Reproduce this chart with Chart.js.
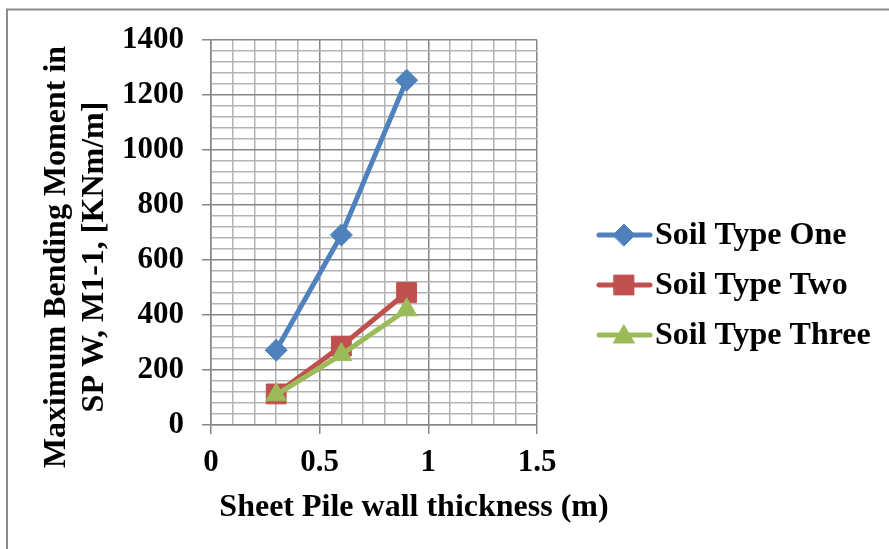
<!DOCTYPE html>
<html>
<head>
<meta charset="utf-8">
<script src="https://cdn.jsdelivr.net/npm/chart.js@4"></script>
<style>
  html, body { margin: 0; padding: 0; background: #fff; }
  #wrap { width: 889px; height: 549px; position: relative; }
</style>
</head>
<body>
<div id="wrap"><canvas id="c" width="889" height="549"></canvas></div>
<script>
// Wall thickness (m) and maximum bending moment M1-1 (kN·m/m) per soil type
const thickness = [0.3, 0.6, 0.9];
const soilTypeOne = [272, 691, 1254];
const soilTypeTwo = [113, 287, 482];
const soilTypeThree = [110, 256, 419];
const seriesNames = ['Soil Type One', 'Soil Type Two', 'Soil Type Three'];
const xTickLabels = ['0', '0.5', '1', '1.5'];
const yTickLabels = ['0', '200', '400', '600', '800', '1000', '1200', '1400'];
const xTitle = 'Sheet Pile wall thickness (m)';
const yTitle = ['Maximum Bending Moment in', 'SP W, M1-1, [KNm/m]'];

const FONT = "'Liberation Serif', 'Times New Roman', serif";
const colors = ['#4F81BD', '#C0504D', '#9BBB59'];
const markers = ['rectRot', 'rect', 'triangle'];
const markerRadius = [11, 14, 12];

const toPoints = ys => thickness.map((x, i) => ({ x, y: ys[i] }));
const values = [soilTypeOne, soilTypeTwo, soilTypeThree];

const MAJOR_GRID = '#868686';
const MINOR_GRID = '#b3b3b3';

const isMajorX = v => Math.abs(v * 2 - Math.round(v * 2)) < 1e-6;
const isMajorY = v => Math.abs(v / 200 - Math.round(v / 200)) < 1e-6;

// Outer frame, axis titles and the right-hand legend
const decorations = {
  id: 'decorations',
  beforeDraw(chart) {
    const ctx = chart.ctx;
    ctx.save();
    ctx.fillStyle = '#fff';
    ctx.fillRect(0, 0, chart.width, chart.height);
    ctx.strokeStyle = '#8c8c8c';
    ctx.lineWidth = 2;
    ctx.strokeRect(7, 9.5, chart.width + 20, chart.height + 20);
    ctx.restore();
  },
  afterDraw(chart) {
    const ctx = chart.ctx;
    const area = chart.chartArea;

    // x axis title
    ctx.save();
    ctx.fillStyle = '#000';
    ctx.font = 'bold 32px ' + FONT;
    ctx.textAlign = 'center';
    ctx.textBaseline = 'middle';
    ctx.fillText(xTitle, 414, 508);
    ctx.restore();

    // y axis title, two lines rotated
    ctx.save();
    ctx.fillStyle = '#000';
    ctx.font = 'bold 32px ' + FONT;
    ctx.textAlign = 'center';
    ctx.textBaseline = 'middle';
    ctx.translate(57, 257);
    ctx.rotate(-Math.PI / 2);
    yTitle.forEach((t, i) => ctx.fillText(t, 0, i * 38));
    ctx.restore();

    // legend
    ctx.save();
    chart.data.datasets.forEach((ds, i) => {
      const y = 235 + i * 50;
      ctx.strokeStyle = ds.borderColor;
      ctx.lineWidth = 5;
      ctx.lineCap = 'round';
      ctx.beginPath();
      ctx.moveTo(599, y);
      ctx.lineTo(650, y);
      ctx.stroke();
      ctx.fillStyle = ds.pointBackgroundColor;
      ctx.strokeStyle = ds.pointBackgroundColor;
      ctx.lineWidth = 1;
      Chart.helpers.drawPoint(ctx, {
        pointStyle: ds.pointStyle,
        radius: ds.pointRadius,
        rotation: 0,
        borderWidth: 1
      }, 624, ds.pointStyle === 'triangle' ? y + 2 : y);
      ctx.fillStyle = '#000';
      ctx.font = 'bold 32px ' + FONT;
      ctx.textAlign = 'left';
      ctx.textBaseline = 'middle';
      ctx.fillText(ds.label, 655, y + 1);
    });
    ctx.restore();
  }
};

new Chart(document.getElementById('c'), {
  type: 'line',
  data: {
    datasets: values.map((ys, i) => ({
      label: seriesNames[i],
      data: toPoints(ys),
      order: values.length - 1 - i,
      borderColor: colors[i],
      backgroundColor: colors[i],
      pointBackgroundColor: colors[i],
      pointBorderColor: colors[i],
      pointStyle: markers[i],
      pointRadius: markerRadius[i],
      pointHoverRadius: markerRadius[i],
      pointBorderWidth: 1,
      borderWidth: 5,
      tension: 0,
      fill: false
    }))
  },
  options: {
    responsive: false,
    animation: false,
    events: [],
    layout: { padding: { left: 0, right: 352, top: 40, bottom: 0 } },
    plugins: {
      legend: { display: false },
      tooltip: { enabled: false }
    },
    scales: {
      x: {
        type: 'linear',
        min: 0,
        max: 1.5,
        afterFit(scale) { scale.height = 124; },
        afterBuildTicks(scale) {
          const t = [];
          for (let i = 0; i <= 15; i++) t.push({ value: i / 10 });
          scale.ticks = t;
        },
        ticks: {
          autoSkip: false,
          maxRotation: 0,
          padding: 10,
          color: '#000',
          font: { family: FONT, size: 31, weight: 'bold' },
          callback(v) {
            if (!isMajorX(v)) return '';
            return xTickLabels[Math.round(v * 2)];
          }
        },
        grid: {
          color: ctx => isMajorX(ctx.tick.value) ? MAJOR_GRID : MINOR_GRID,
          lineWidth: 1.5,
          tickLength: 9,
          tickColor: ctx => isMajorX(ctx.tick.value) ? MAJOR_GRID : 'rgba(0,0,0,0)',
          tickWidth: 1.5
        },
        border: { color: MAJOR_GRID, width: 1.5 },
        title: { display: false }
      },
      y: {
        type: 'linear',
        min: 0,
        max: 1400,
        afterFit(scale) { scale.width = 211; },
        afterBuildTicks(scale) {
          const t = [];
          for (let v = 0; v <= 1400; v += 40) t.push({ value: v });
          scale.ticks = t;
        },
        ticks: {
          autoSkip: false,
          padding: 18,
          color: '#000',
          font: { family: FONT, size: 31, weight: 'bold' },
          callback(v) {
            if (!isMajorY(v)) return '';
            return yTickLabels[Math.round(v / 200)];
          }
        },
        grid: {
          color: ctx => isMajorY(ctx.tick.value) ? MAJOR_GRID : MINOR_GRID,
          lineWidth: 1.5,
          tickLength: 9,
          tickColor: ctx => isMajorY(ctx.tick.value) ? MAJOR_GRID : 'rgba(0,0,0,0)',
          tickWidth: 1.5
        },
        border: { color: MAJOR_GRID, width: 1.5 },
        title: { display: false }
      }
    }
  },
  plugins: [decorations]
});
</script>
</body>
</html>
